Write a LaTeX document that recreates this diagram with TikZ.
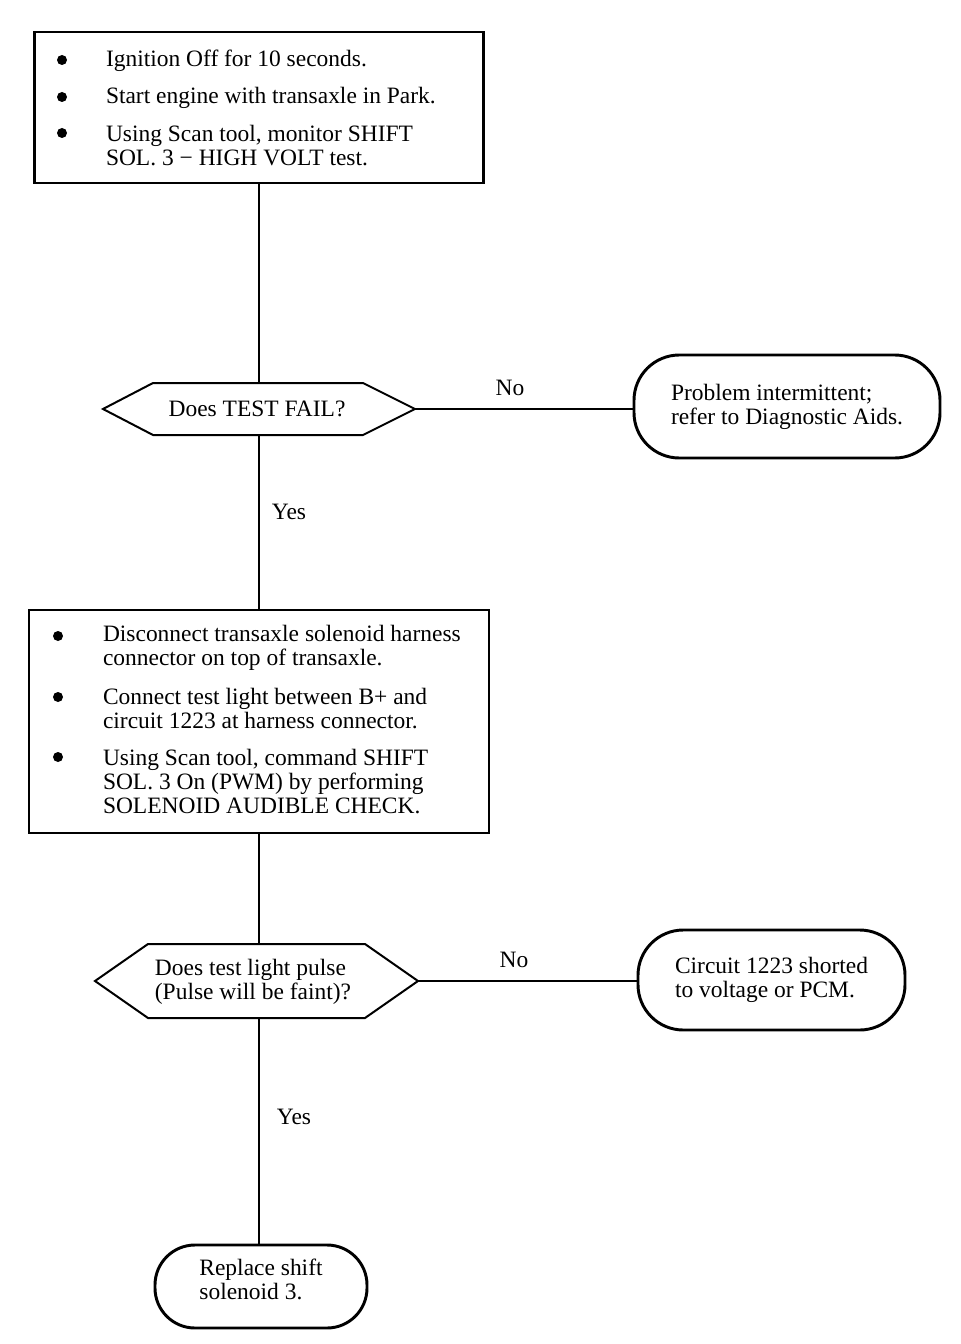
\documentclass[tikz,border=0pt]{standalone}
\usepackage{fontspec}
\setmainfont{Liberation Serif}
\usetikzlibrary{positioning}

\begin{document}
\begin{tikzpicture}[x=0.75pt,y=-0.75pt,line width=1.5pt,
  every node/.style={font=\fontsize{17.6}{18}\selectfont},
  stepbox/.style={draw,line width=2.2pt,inner sep=0pt},
  endbox/.style={draw,line width=2.2pt,align=left,inner sep=0pt},
  item/.style={anchor=west,align=left,inner sep=0pt},
  dot/.style={circle,fill=black,inner sep=0pt,minimum size=7.5pt}]
\useasboundingbox (0,0) rectangle (960,1344);

% first test box
\node[stepbox,minimum width=336.75pt,minimum height=113.25pt] (test1) at (259,107.5) {};
\node[dot] (b11) at (62,60) {};
\node[item] (t11) at (105,61) {Ignition Off for 10 seconds.};
\node[dot] (b12) at (62,97) {};
\node[item] (t12) at (105,98) {Start engine with transaxle in Park.};
\node[dot] (b13) at (62,133) {};
\node[item] (t13) at (105,146) {Using Scan tool, monitor SHIFT\\SOL. 3 − HIGH VOLT test.};

% first question
\draw (103,409) -- (153,383) -- (363,383) -- (415,409) -- (363,435) -- (153,435) -- cycle;
\coordinate (q1n) at (259,383);
\coordinate (q1s) at (259,435);
\coordinate (q1e) at (415,409);
\node (q1) at (257,409) {Does TEST FAIL?};

\node[endbox,rounded corners=34pt,minimum width=229.5pt,minimum height=77.25pt] (end1) at (787,406.5) {Problem intermittent;\\refer to Diagnostic Aids.};

% second test box
\node[stepbox,minimum width=345pt,minimum height=167.25pt] (test2) at (259,721.5) {};
\node[dot] (b21) at (58,636) {};
\node[item] (t21) at (102,648) {Disconnect transaxle solenoid harness\\connector on top of transaxle.};
\node[dot] (b22) at (58,697) {};
\node[item] (t22) at (102,709) {Connect test light between B+ and\\circuit 1223 at harness connector.};
\node[dot] (b23) at (58,757) {};
\node[item] (t23) at (102,782) {Using Scan tool, command SHIFT\\SOL. 3 On (PWM) by performing\\SOLENOID AUDIBLE CHECK.};

% second question
\draw (95,981) -- (148,944) -- (365,944) -- (418,981) -- (365,1018) -- (148,1018) -- cycle;
\coordinate (q2n) at (259,944);
\coordinate (q2s) at (259,1018);
\coordinate (q2e) at (418,981);
\node[align=left] (q2) at (253,982) {Does test light pulse\\(Pulse will be faint)?};

\node[endbox,rounded corners=34pt,minimum width=200.25pt,minimum height=75pt] (end2) at (771.5,980) {Circuit 1223 shorted\\to voltage or PCM.};
\node[endbox,rounded corners=30pt,minimum width=159pt,minimum height=62.25pt,text depth=11pt] (end3) at (261,1286.5) {Replace shift\\solenoid 3.};

% connectors
\draw (test1.south) -- (q1n);
\draw (q1e) -- (q1e -| end1.west);
\draw (q1s) -- (test2.north);
\draw (test2.south) -- (q2n);
\draw (q2e) -- (q2e -| end2.west);
\draw (q2s) -- (q2s |- end3.north);

\node (no1) at (510,388) {No};
\node (yes1) at (289,512) {Yes};
\node (no2) at (514,960) {No};
\node (yes2) at (294,1117) {Yes};

\end{tikzpicture}
\end{document}
